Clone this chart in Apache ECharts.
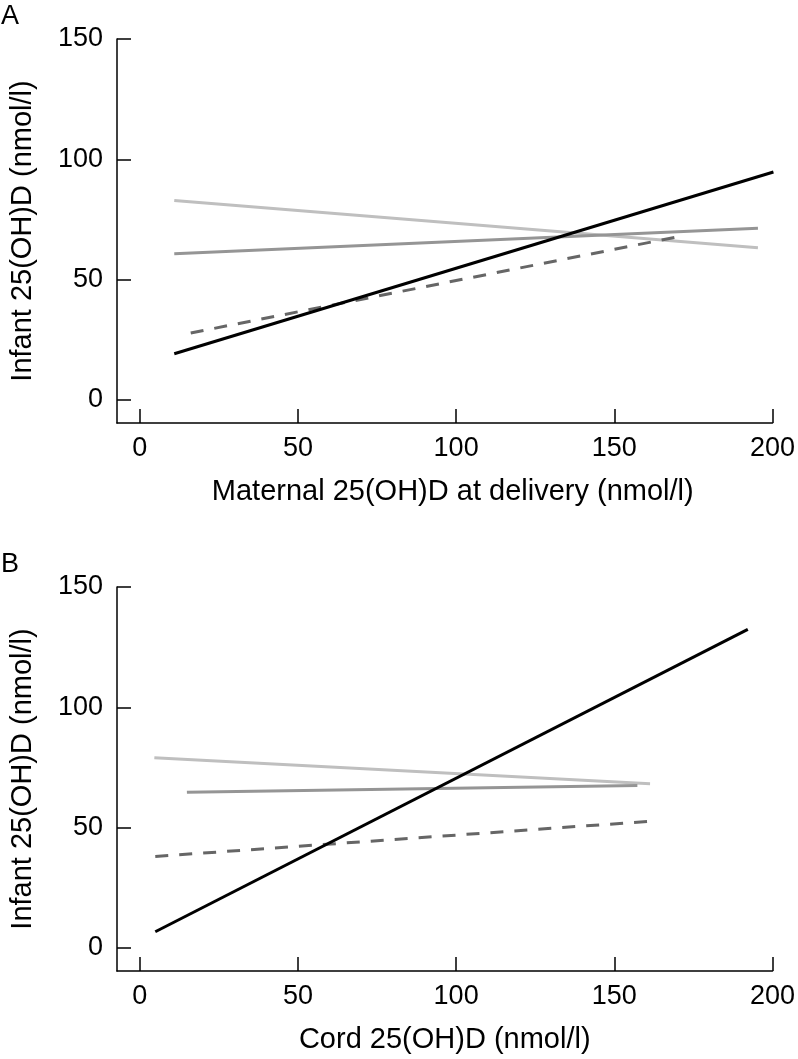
<!DOCTYPE html>
<html>
<head>
<meta charset="utf-8">
<script src="https://cdn.jsdelivr.net/npm/echarts@6/dist/echarts.min.js"></script>
<style>
html,body{margin:0;padding:0;background:#fff;}
#chart{width:798px;height:1059px;}
</style>
</head>
<body>
<div id="chart"></div>
<script>
// Tick labels
var xTicks = [0, 50, 100, 150, 200];
var yTicks = [0, 50, 100, 150];

// Panel A: Maternal 25(OH)D at delivery vs infant 25(OH)D (line endpoints)
var aLight  = [[10.9, 82.9], [195.4, 63.2]];
var aMedium = [[10.9, 60.7], [195.4, 71.3]];
var aBlack  = [[10.9, 19.2], [200.3, 94.7]];
var aDashed = [[16.1, 27.8], [172.0, 68.3]];

// Panel B: Cord 25(OH)D vs infant 25(OH)D (line endpoints)
var bLight  = [[4.6, 79.0], [161.3, 68.2]];
var bMedium = [[14.9, 64.7], [157.3, 67.5]];
var bBlack  = [[4.9, 6.7], [192.2, 132.4]];
var bDashed = [[4.9, 38.0], [161.1, 52.6]];

var xTitleA = 'Maternal 25(OH)D at delivery (nmol/l)';
var xTitleB = 'Cord 25(OH)D (nmol/l)';
var yTitle = 'Infant 25(OH)D (nmol/l)';

var FONT = '"Liberation Sans", Arial, Helvetica, sans-serif';

function xAxisDef(idx, name, shift) {
  return {
    type: 'value', gridIndex: idx, min: -7.2, max: 200,
    name: name, nameLocation: 'middle', nameGap: 54,
    nameTextStyle: {fontFamily: FONT, fontSize: 29, color: '#000', padding: [0, 0, 0, shift]},
    axisLine: {show: true, onZero: false, lineStyle: {color: '#000', width: 1.5}},
    axisTick: {show: true, inside: true, length: 14, customValues: xTicks, lineStyle: {color: '#000', width: 1.5}},
    axisLabel: {show: true, customValues: xTicks, margin: 12, fontFamily: FONT, fontSize: 27, color: '#000'},
    splitLine: {show: false}
  };
}
function yAxisDef(idx) {
  return {
    type: 'value', gridIndex: idx, min: -9.6, max: 150,
    name: yTitle, nameLocation: 'middle', nameGap: 80,
    nameTextStyle: {fontFamily: FONT, fontSize: 29, color: '#000'},
    axisLine: {show: true, onZero: false, lineStyle: {color: '#000', width: 1.5}},
    axisTick: {show: true, inside: true, length: 14, customValues: yTicks, lineStyle: {color: '#000', width: 1.5}},
    axisLabel: {show: true, customValues: yTicks, margin: 14, fontFamily: FONT, fontSize: 27, color: '#000'},
    splitLine: {show: false}
  };
}
function lineSeries(idx, data, color, dashed) {
  return {
    type: 'line', xAxisIndex: idx, yAxisIndex: idx, data: data,
    showSymbol: false, symbol: 'none', silent: true, animation: false,
    lineStyle: {color: color, width: 3, type: dashed ? [13, 11] : 'solid', cap: 'butt'}
  };
}

var chart = echarts.init(document.getElementById('chart'), null, {renderer: 'canvas'});
chart.setOption({
  animation: false,
  backgroundColor: '#fff',
  title: [
    {text: 'A', left: 1, top: 3, padding: 0, textStyle: {fontFamily: FONT, fontSize: 27, fontWeight: 'normal', color: '#000'}},
    {text: 'B', left: 1, top: 551, padding: 0, textStyle: {fontFamily: FONT, fontSize: 27, fontWeight: 'normal', color: '#000'}}
  ],
  grid: [
    {left: 114, width: 659, top: 39, height: 384, containLabel: false},
    {left: 114, width: 659, top: 587, height: 384, containLabel: false}
  ],
  xAxis: [xAxisDef(0, xTitleA, 16), xAxisDef(1, xTitleB, 0)],
  yAxis: [yAxisDef(0), yAxisDef(1)],
  series: [
    lineSeries(0, aLight, '#bfbfbf', false),
    lineSeries(0, aMedium, '#959595', false),
    lineSeries(0, aDashed, '#666666', true),
    lineSeries(0, aBlack, '#000000', false),
    lineSeries(1, bLight, '#bfbfbf', false),
    lineSeries(1, bMedium, '#959595', false),
    lineSeries(1, bDashed, '#666666', true),
    lineSeries(1, bBlack, '#000000', false)
  ]
});
</script>
</body>
</html>
